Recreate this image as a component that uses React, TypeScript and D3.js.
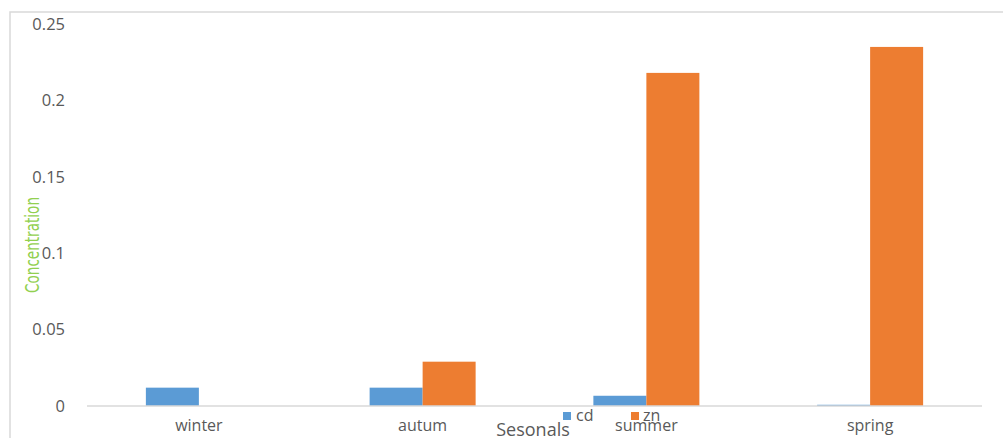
import React from "react";
import * as d3 from "d3";

const categories = ["winter", "autum", "summer", "spring"];
const seriesNames = ["cd", "zn"];
const cdValues = [0.012, 0.012, 0.0067, 0.0008];
const znValues = [0, 0.029, 0.218, 0.235];
const yTicks = [0, 0.05, 0.1, 0.15, 0.2, 0.25];
const yTickLabels = ["0", "0.05", "0.1", "0.15", "0.2", "0.25"];
const colors = ["#5B9BD5", "#ED7D31"];

export default function App() {
  const W = 1003, H = 438;
  const x0 = d3.scaleBand<string>().domain(categories).range([87, 982]).padding(0);
  const groupW = 106;
  const x1 = d3.scaleBand<string>().domain(seriesNames).range([0, groupW]).padding(0);
  const y = d3.scaleLinear().domain([0, 0.25]).range([406, 24]);
  const series = [cdValues, znValues];
  const font = "'Open Sans', 'DejaVu Sans', sans-serif";

  return (
    <svg width={W} height={H} style={{ position: "absolute", left: 0, top: 0, background: "#fff" }}>
      <rect x={10} y={12} width={1010} height={440} fill="#fff" stroke="#d9d9d9" strokeWidth={1.5} />
      {yTicks.map((t, i) => (
        <text key={t} x={65} y={y(t)} dy="0.35em" textAnchor="end" fontFamily={font} fontSize={16.5} fill="#595959">
          {yTickLabels[i]}
        </text>
      ))}
      {categories.map((c, ci) => {
        const gx = (x0(c) as number) + x0.bandwidth() / 2 - groupW / 2;
        return seriesNames.map((s, si) => {
          const v = series[si][ci];
          return (
            <rect key={c + s} x={gx + (x1(s) as number)} y={y(v)} width={x1.bandwidth()} height={y(0) - y(v)} fill={colors[si]} />
          );
        });
      })}
      <line x1={87} x2={982} y1={y(0)} y2={y(0)} stroke="#d9d9d9" strokeWidth={1.5} />
      {categories.map((c) => (
        <text key={c} x={(x0(c) as number) + x0.bandwidth() / 2} y={431} textAnchor="middle" fontFamily={font} fontSize={16} fill="#595959">
          {c}
        </text>
      ))}
      <text x={533} y={436} textAnchor="middle" fontFamily={font} fontSize={18} fill="#595959">Sesonals</text>
      <rect x={563} y={412} width={8} height={8} fill={colors[0]} />
      <text x={576} y={421} fontFamily={font} fontSize={16} fill="#595959">{seriesNames[0]}</text>
      <rect x={631} y={412} width={8} height={8} fill={colors[1]} />
      <text x={643} y={421} fontFamily={font} fontSize={16} fill="#595959">{seriesNames[1]}</text>
      <text transform="translate(39,245) rotate(-90)" textAnchor="middle" fontFamily="'Liberation Sans Narrow', 'DejaVu Sans Condensed', sans-serif" fontSize={20} textLength={96} lengthAdjust="spacingAndGlyphs" fill="#92D050">
        Concentration
      </text>
    </svg>
  );
}
